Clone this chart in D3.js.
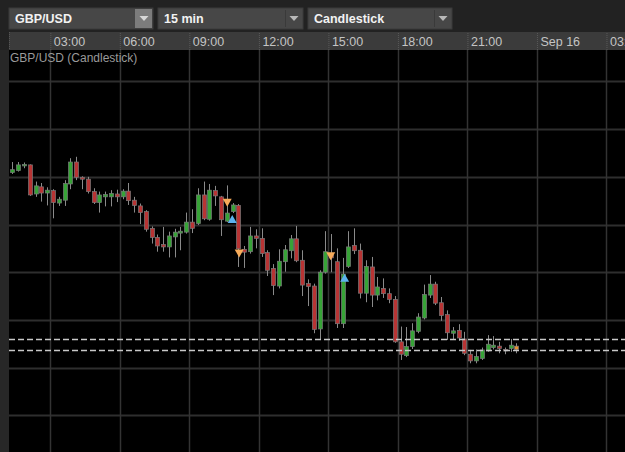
<!DOCTYPE html>
<html>
<head>
<meta charset="utf-8">
<script src="https://cdn.jsdelivr.net/npm/d3@7"></script>
<style>
  html, body { margin: 0; padding: 0; background: #222; }
  svg { display: block; }
  text { font-family: "Liberation Sans", Arial, sans-serif; }
</style>
</head>
<body>
<svg id="chart"></svg>
<script>
// toolbar selections
const symbol = "GBP/USD";
const interval = "15 min";
const chartType = "Candlestick";

// 15 min candles, Sep 15 from 01:15
const firstCandle = "2016-09-15 01:15";
const viewStart = "2016-09-15 01:13";
const viewEnd = "2016-09-16 03:48";

const opens = [
  1.32109, 1.32113, 1.32123, 1.32125, 1.32064, 1.32079, 1.32066, 1.32071, 1.32045, 1.32051,
  1.32085, 1.32131, 1.32099, 1.32095, 1.32069, 1.32046, 1.32058, 1.32058, 1.32064, 1.32058,
  1.32070, 1.32051, 1.32039, 1.32027, 1.31992, 1.31973, 1.31958, 1.31953, 1.31974, 1.31982,
  1.31984, 1.32005, 1.32002, 1.32062, 1.32011, 1.32071, 1.32058, 1.32007, 1.32027, 1.32040,
  1.31948, 1.31943, 1.31976, 1.31971, 1.31941, 1.31908, 1.31871, 1.31922, 1.31945, 1.31970,
  1.31925, 1.31876, 1.31871, 1.31781, 1.31900, 1.31936, 1.31922, 1.31792, 1.31912, 1.31956,
  1.31946, 1.31856, 1.31911, 1.31852, 1.31866, 1.31855, 1.31843, 1.31754, 1.31725, 1.31744,
  1.31776, 1.31804, 1.31852, 1.31875, 1.31836, 1.31811, 1.31772, 1.31778, 1.31760, 1.31728,
  1.31714, 1.31719, 1.31735, 1.31742, 1.31745, 1.31738, 1.31740, 1.31745
];
const highs = [
  1.32131, 1.32131, 1.32130, 1.32126, 1.32090, 1.32087, 1.32078, 1.32074, 1.32058, 1.32093,
  1.32139, 1.32142, 1.32101, 1.32100, 1.32076, 1.32069, 1.32069, 1.32072, 1.32073, 1.32074,
  1.32087, 1.32058, 1.32044, 1.32030, 1.31996, 1.31979, 1.31995, 1.31985, 1.31991, 1.31995,
  1.32025, 1.32032, 1.32076, 1.32090, 1.32085, 1.32081, 1.32060, 1.32082, 1.32045, 1.32043,
  1.31955, 1.31995, 1.31990, 1.31992, 1.31946, 1.31917, 1.31948, 1.31957, 1.31978, 1.31997,
  1.31946, 1.31885, 1.31876, 1.31904, 1.31986, 1.31980, 1.31950, 1.31930, 1.31986, 1.31992,
  1.31960, 1.31925, 1.31932, 1.31890, 1.31887, 1.31866, 1.31850, 1.31786, 1.31785, 1.31793,
  1.31814, 1.31874, 1.31894, 1.31880, 1.31848, 1.31820, 1.31785, 1.31791, 1.31775, 1.31737,
  1.31738, 1.31742, 1.31768, 1.31766, 1.31754, 1.31742, 1.31760, 1.31751
];
const lows = [
  1.32106, 1.32111, 1.32118, 1.32060, 1.32058, 1.32048, 1.32040, 1.32013, 1.32039, 1.32039,
  1.32074, 1.32093, 1.32074, 1.32065, 1.32043, 1.32025, 1.32038, 1.32038, 1.32047, 1.32053,
  1.32041, 1.32025, 1.32001, 1.31985, 1.31960, 1.31943, 1.31943, 1.31931, 1.31931, 1.31946,
  1.31981, 1.31982, 1.31999, 1.32009, 1.32008, 1.32039, 1.31976, 1.32005, 1.32024, 1.31911,
  1.31909, 1.31939, 1.31950, 1.31932, 1.31892, 1.31852, 1.31866, 1.31901, 1.31929, 1.31921,
  1.31850, 1.31829, 1.31772, 1.31759, 1.31897, 1.31900, 1.31783, 1.31783, 1.31909, 1.31938,
  1.31845, 1.31837, 1.31827, 1.31841, 1.31846, 1.31835, 1.31752, 1.31716, 1.31722, 1.31739,
  1.31772, 1.31801, 1.31846, 1.31831, 1.31798, 1.31758, 1.31760, 1.31756, 1.31726, 1.31709,
  1.31709, 1.31716, 1.31733, 1.31738, 1.31730, 1.31728, 1.31733, 1.31730
];
const closes = [
  1.32115, 1.32125, 1.32126, 1.32062, 1.32081, 1.32066, 1.32072, 1.32046, 1.32053, 1.32086,
  1.32131, 1.32099, 1.32095, 1.32069, 1.32046, 1.32062, 1.32063, 1.32065, 1.32058, 1.32070,
  1.32050, 1.32040, 1.32025, 1.31990, 1.31973, 1.31955, 1.31953, 1.31976, 1.31984, 1.31986,
  1.32005, 1.31992, 1.32062, 1.32012, 1.32072, 1.32060, 1.32010, 1.32024, 1.32041, 1.31949,
  1.31942, 1.31976, 1.31971, 1.31939, 1.31904, 1.31872, 1.31923, 1.31947, 1.31970, 1.31924,
  1.31873, 1.31870, 1.31780, 1.31900, 1.31943, 1.31930, 1.31792, 1.31896, 1.31953, 1.31945,
  1.31856, 1.31912, 1.31852, 1.31869, 1.31855, 1.31843, 1.31754, 1.31728, 1.31744, 1.31777,
  1.31806, 1.31853, 1.31875, 1.31835, 1.31809, 1.31773, 1.31777, 1.31762, 1.31730, 1.31714,
  1.31723, 1.31737, 1.31749, 1.31747, 1.31740, 1.31736, 1.31747, 1.31738
];

// ask / bid lines
const priceLines = [1.31760, 1.31736];

// trade signals
const signalTimes = ["10:38", "10:51", "11:09", "15:06", "15:42"];
const signalPrices = [1.32037, 1.32020, 1.31931, 1.31925, 1.31897];
const signalTypes = ["sell", "buy", "sell", "sell", "buy"];

const width = 625;
const height = 452;
const plot = { left: 9, right: 625, top: 50, bottom: 452 };
const axisTop = 32;
const priceDomain = [1.31523, 1.32368];

const parse = d3.timeParse("%Y-%m-%d %H:%M");
const t0 = parse(firstCandle);
const candles = opens.map((o, i) => ({
    time: d3.timeMinute.offset(t0, i * 15),
    open: o, high: highs[i], low: lows[i], close: closes[i],
    last: i === opens.length - 1
}));

const svg = d3.select("#chart").attr("width", width).attr("height", height);

const x = d3.scaleTime()
    .domain([parse(viewStart), parse(viewEnd)])
    .range([plot.left, plot.right]);

const y = d3.scaleLinear()
    .domain(priceDomain)
    .range([plot.bottom, plot.top - 1]);

// backgrounds
svg.append("rect").attr("width", width).attr("height", height).attr("fill", "#222");
svg.append("rect").attr("x", 0).attr("y", plot.top).attr("width", plot.left).attr("height", height - plot.top).attr("fill", "#272727");
svg.append("rect")
    .attr("x", plot.left).attr("y", plot.top)
    .attr("width", plot.right - plot.left).attr("height", plot.bottom - plot.top)
    .attr("fill", "#000");

// toolbar
function dropdown(x0, w, label, active) {
    const g = svg.append("g").attr("transform", `translate(${x0},8)`);
    g.append("rect").attr("width", w).attr("height", 21).attr("fill", "#474747").attr("stroke", "#3a3a3a");
    const bx = w - 18;
    if (active) {
        g.append("rect").attr("x", bx).attr("y", 1).attr("width", 17).attr("height", 19).attr("fill", "#7c7c7c");
    } else {
        g.append("line").attr("x1", bx + 0.5).attr("x2", bx + 0.5).attr("y1", 2).attr("y2", 19).attr("stroke", "#3a3a3a");
    }
    g.append("path")
        .attr("d", `M${bx + 4.5},8 L${bx + 13.5},8 L${bx + 9},13 Z`)
        .attr("fill", active ? "#d8d8d8" : "#b8b8b8");
    g.append("text")
        .attr("x", 6).attr("y", 15)
        .attr("fill", "#f2f2f2").attr("font-size", "12.5px").attr("font-weight", "bold")
        .text(label);
}
dropdown(9, 144, symbol, true);
dropdown(158, 145, interval, false);
dropdown(308, 144, chartType, false);

// time axis strip
svg.append("rect")
    .attr("x", plot.left).attr("y", axisTop)
    .attr("width", plot.right - plot.left).attr("height", plot.top - axisTop)
    .attr("fill", "#3b3b3b");
svg.append("line")
    .attr("x1", plot.left + 0.5).attr("x2", plot.left + 0.5)
    .attr("y1", axisTop).attr("y2", plot.top)
    .attr("stroke", "#555").attr("stroke-dasharray", "1,1");

const hourTicks = x.ticks(d3.timeHour.every(3));
const fmtTick = d => d.getHours() === 0 ? d3.timeFormat("%b %d")(d) : d3.timeFormat("%H:%M")(d);

const xAxis = svg.append("g").attr("transform", `translate(0,${plot.top})`)
    .call(d3.axisTop(x).tickValues(hourTicks).tickSize(plot.top - axisTop).tickFormat(fmtTick));
xAxis.select(".domain").remove();
xAxis.selectAll(".tick line").attr("stroke", "#5a5a5a").attr("stroke-dasharray", "1,1");
xAxis.selectAll(".tick text")
    .attr("fill", "#c4c4c4").attr("font-size", "12.5px")
    .attr("text-anchor", "start").attr("x", 3).attr("y", -4)
    .attr("font-family", "'Liberation Sans', Arial, sans-serif");

// grid
const grid = svg.append("g");
grid.selectAll(".hgrid")
    .data(y.ticks(8))
    .join("line")
    .attr("class", "hgrid")
    .attr("x1", plot.left).attr("x2", plot.right)
    .attr("y1", d => Math.round(y(d)) + 0.5).attr("y2", d => Math.round(y(d)) + 0.5)
    .attr("stroke", "#2e2e2e").attr("stroke-width", 2);
grid.selectAll(".vgrid")
    .data(hourTicks)
    .join("line")
    .attr("class", "vgrid")
    .attr("x1", d => Math.round(x(d)) + 0.5).attr("x2", d => Math.round(x(d)) + 0.5)
    .attr("y1", plot.top).attr("y2", plot.bottom)
    .attr("stroke", "#333").attr("stroke-width", 1.5);

svg.append("text")
    .attr("x", 10).attr("y", 62)
    .attr("fill", "#9a9a9a").attr("font-size", "12px")
    .text(`${symbol} (${chartType})`);

// candles
const cx = d => Math.round(x(d3.timeMinute.offset(d.time, 7.5))) + 0.5;
const candleColor = d => d.last ? "#e8902e" : (d.close >= d.open ? "#37a337" : "#b83434");

const cg = svg.append("g");
cg.selectAll(".wick")
    .data(candles)
    .join("line")
    .attr("class", "wick")
    .attr("x1", cx).attr("x2", cx)
    .attr("y1", d => y(d.high)).attr("y2", d => y(d.low))
    .attr("stroke", "#8a8a8a").attr("stroke-width", 1);

cg.selectAll(".body")
    .data(candles)
    .join("rect")
    .attr("class", "body")
    .attr("x", d => cx(d) - 2)
    .attr("width", 4)
    .attr("y", d => y(Math.max(d.open, d.close)))
    .attr("height", d => Math.max(1.5, Math.abs(y(d.open) - y(d.close))))
    .attr("fill", candleColor)
    .attr("stroke", "#7a7a7a").attr("stroke-width", 0.7);

// ask / bid
svg.selectAll(".pline")
    .data(priceLines)
    .join("line")
    .attr("class", "pline")
    .attr("x1", plot.left).attr("x2", plot.right)
    .attr("y1", d => Math.round(y(d)) + 0.5).attr("y2", d => Math.round(y(d)) + 0.5)
    .attr("stroke", "#c8c8c8").attr("stroke-width", 1.5)
    .attr("stroke-dasharray", "6,3");

// signals
const dayFmt = d3.timeFormat("%Y-%m-%d ");
const signals = signalTimes.map((t, i) => ({
    time: parse(dayFmt(t0) + t), price: signalPrices[i], type: signalTypes[i]
}));
svg.selectAll(".signal")
    .data(signals)
    .join("path")
    .attr("class", "signal")
    .attr("d", d => {
        const px = x(d.time), py = y(d.price);
        const dir = d.type === "sell" ? -1 : 1;
        return `M${px},${py} L${px - 4.5},${py + dir * 8} L${px + 4.5},${py + dir * 8} Z`;
    })
    .attr("fill", d => d.type === "sell" ? "#f7ab5a" : "#5cb2ee");
</script>
</body>
</html>
